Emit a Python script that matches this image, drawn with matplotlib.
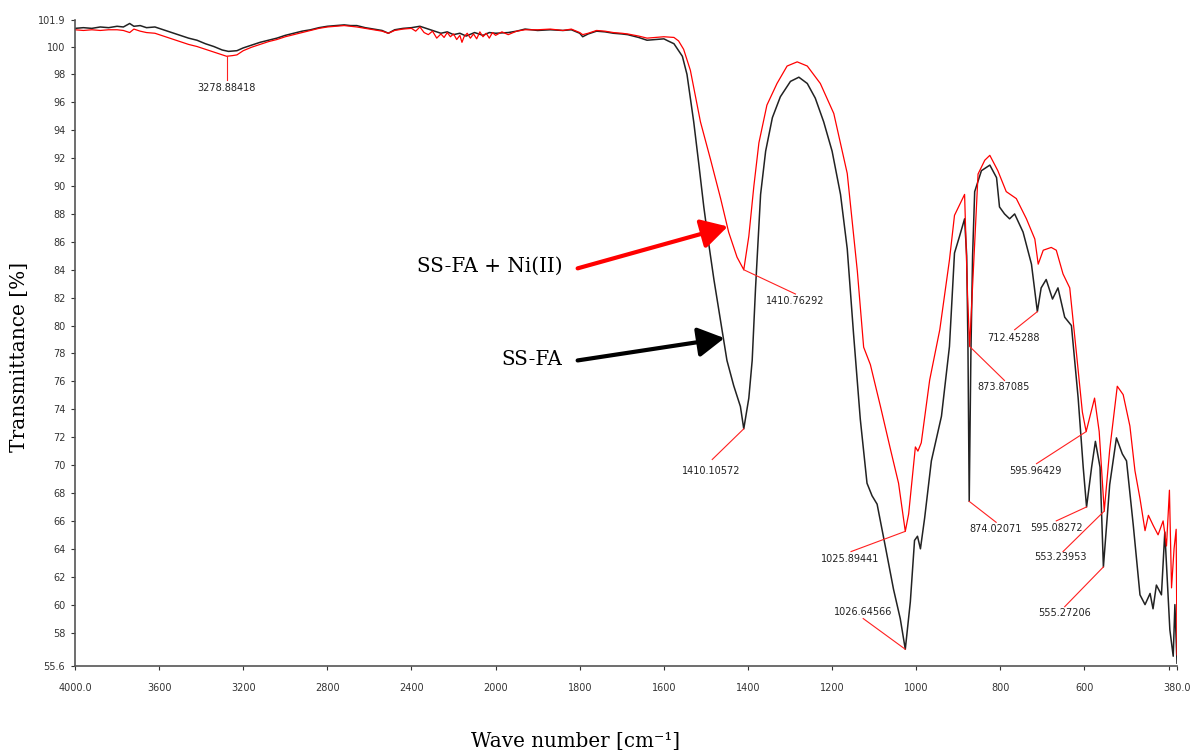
import numpy as np
import matplotlib
matplotlib.use('Agg')
import matplotlib.pyplot as plt

# SS-FA spectrum (wavenumber cm-1, transmittance %)
ssfa_wn = [4000, 3960, 3920, 3880, 3840, 3800, 3770, 3740, 3720, 3690, 3660, 3620, 3580, 3540,
           3500, 3460, 3420, 3380, 3340, 3300, 3270, 3230, 3200, 3160, 3120, 3080, 3040, 3000,
           2960, 2920, 2880, 2840, 2800, 2760, 2720, 2690, 2660, 2620, 2580, 2540, 2510, 2480,
           2440, 2400, 2360, 2330, 2300, 2260, 2230, 2200, 2170, 2140, 2100, 2060, 2030, 2000,
           1970, 1950, 1930, 1900, 1870, 1840, 1820, 1800, 1793, 1780, 1760, 1740, 1720, 1700,
           1686, 1660, 1640, 1620, 1600, 1590, 1576, 1556, 1545, 1529, 1517, 1505, 1493, 1481,
           1465, 1450, 1434, 1418, 1410, 1398, 1390, 1382, 1370, 1358, 1342, 1323, 1299, 1279,
           1259, 1240, 1220, 1200, 1180, 1164, 1149, 1133, 1117, 1105, 1093, 1073, 1054, 1038,
           1026, 1014, 1004, 997, 990, 980, 964, 940, 921, 909, 897, 885, 880, 877, 874, 870,
           866, 861, 845, 825, 809, 802, 790, 778, 766, 746, 726, 712, 703, 691, 676, 663, 647,
           631, 615, 603, 595, 583, 574, 563, 555, 540, 524, 510, 500, 484, 468, 456, 444, 437,
           429, 417, 409, 397, 389, 385, 380]
ssfa_t = [101.3, 101.35, 101.3, 101.4, 101.35, 101.45, 101.4, 101.65, 101.45, 101.5, 101.35, 101.4,
          101.2, 101.0, 100.8, 100.6, 100.45, 100.2, 100.0, 99.75, 99.65, 99.7, 99.9, 100.1, 100.3,
          100.45, 100.6, 100.8, 100.95, 101.1, 101.2, 101.35, 101.45, 101.5, 101.55, 101.5, 101.5,
          101.35, 101.25, 101.15, 100.95, 101.2, 101.3, 101.35, 101.45, 101.3, 101.15, 100.95,
          101.05, 100.85, 100.95, 100.75, 101.0, 100.8, 101.0, 100.95, 101.0, 101.1, 101.25, 101.15,
          101.2, 101.15, 101.2, 100.95, 100.7, 100.9, 101.1, 101.05, 100.95, 100.9, 100.85, 100.65,
          100.45, 100.5, 100.55, 100.4, 100.2, 99.3, 98.0, 94.6, 91.6, 88.5, 85.8, 83.3, 80.3, 77.5,
          75.7, 74.2, 72.6, 74.8, 77.5, 82.7, 89.4, 92.5, 94.9, 96.4, 97.5, 97.8, 97.35, 96.3, 94.6,
          92.5, 89.4, 85.5, 79.4, 73.3, 68.7, 67.8, 67.2, 64.1, 61.1, 59.0, 56.8, 60.2, 64.6, 64.9,
          64.0, 66.2, 70.3, 73.5, 78.5, 85.2, 86.4, 87.65, 85.0, 78.5, 67.4, 78.0, 85.0, 89.6, 91.1,
          91.5, 90.6, 88.5, 88.0, 87.65, 88.0, 86.7, 84.4, 81.0, 82.7, 83.3, 81.9, 82.7, 80.6, 80.0,
          74.8, 69.85, 67.0, 69.85, 71.7, 69.85, 62.7, 68.6, 71.95, 70.8, 70.3, 65.7, 60.7, 60.0,
          60.8, 59.7, 61.4, 60.7, 65.2, 58.2, 56.3, 60.0, 55.8]

# SS-FA + Ni(II) spectrum
ni_wn = [4000, 3960, 3920, 3880, 3840, 3800, 3770, 3740, 3720, 3690, 3660, 3620, 3580, 3540,
         3500, 3460, 3420, 3380, 3340, 3300, 3279, 3250, 3230, 3200, 3160, 3120, 3080, 3040,
         3000, 2960, 2920, 2880, 2840, 2800, 2760, 2720, 2690, 2660, 2620, 2580, 2540, 2510,
         2480, 2440, 2400, 2380, 2360, 2340, 2320, 2300, 2280, 2260, 2245, 2230, 2215, 2200,
         2185, 2170, 2160, 2150, 2135, 2120, 2105, 2090, 2075, 2060, 2045, 2030, 2015, 2000,
         1985, 1970, 1950, 1930, 1900, 1870, 1840, 1820, 1800, 1793, 1780, 1760, 1740, 1720,
         1700, 1686, 1660, 1640, 1620, 1600, 1576, 1565, 1553, 1537, 1513, 1489, 1465, 1446,
         1426, 1410, 1398, 1386, 1374, 1355, 1331, 1307, 1283, 1259, 1228, 1196, 1164, 1140,
         1125, 1109, 1085, 1061, 1042, 1026, 1018, 1008, 1002, 996, 988, 968, 944, 921, 909,
         885, 878, 873, 865, 853, 837, 825, 806, 786, 762, 738, 718, 710, 698, 679, 667, 651,
         635, 619, 605, 596, 576, 565, 553, 540, 522, 508, 492, 480, 468, 456, 448, 437, 425,
         413, 405, 398, 393, 387, 382, 380]
ni_t = [101.2, 101.15, 101.2, 101.15, 101.2, 101.2, 101.15, 101.0, 101.25, 101.1, 101.0, 100.95,
        100.75, 100.55, 100.35, 100.15, 100.0, 99.8, 99.6, 99.4, 99.3, 99.35, 99.4, 99.7, 99.95,
        100.15, 100.35, 100.5, 100.7, 100.85, 101.0, 101.15, 101.3, 101.4, 101.45, 101.5, 101.45,
        101.4, 101.3, 101.2, 101.1, 100.95, 101.15, 101.25, 101.3, 101.1, 101.4, 101.0, 100.85,
        101.1, 100.6, 100.9, 100.65, 101.0, 100.7, 100.9, 100.5, 100.8, 100.3, 100.7, 100.95,
        100.6, 100.9, 100.55, 101.05, 100.7, 100.95, 100.6, 101.0, 100.8, 101.05, 100.85, 101.1,
        101.2, 101.2, 101.25, 101.15, 101.25, 101.0, 100.85, 100.95, 101.15, 101.1, 101.0, 100.95,
        100.9, 100.75, 100.6, 100.65, 100.7, 100.65, 100.4, 99.8, 98.3, 94.6, 91.9, 89.1, 86.7,
        84.9, 84.0, 86.4, 90.0, 93.1, 95.8, 97.35, 98.6, 98.9, 98.6, 97.35, 95.2, 90.9, 83.9,
        78.45, 77.2, 74.2, 71.1, 68.7, 65.25, 66.5, 69.5, 71.3, 71.0, 71.6, 76.1, 79.7, 84.7,
        87.9, 89.4, 82.2, 78.5, 83.4, 90.86, 91.85, 92.2, 91.1, 89.6, 89.1, 87.65, 86.2, 84.4,
        85.4, 85.6, 85.4, 83.7, 82.7, 78.0, 73.8, 72.4, 74.8, 72.4, 66.7, 71.1, 75.65, 75.05,
        72.8, 69.6, 67.6, 65.3, 66.4, 65.7, 65.0, 66.0, 64.2, 68.2, 61.2, 64.0, 65.4, 56.4]

# peak labels: text, curve point, leader end, label centre
peaks = [
    ('3278.88418', (3279, 99.3), (3279, 97.6), (3279, 97.06)),
    ('1410.76292', (1410, 84.0), (1287, 82.26), (1287, 81.75)),
    ('1410.10572', (1410, 72.6), (1485, 70.4), (1488, 69.55)),
    ('1025.89441', (1026, 65.25), (1155, 63.8), (1156, 63.3)),
    ('1026.64566', (1026, 56.8), (1126, 59.0), (1127, 59.5)),
    ('873.87085', (873, 78.5), (790, 76.06), (792, 75.6)),
    ('874.02071', (874, 67.4), (810, 65.9), (812, 65.4)),
    ('712.45288', (712, 81.0), (766, 79.7), (770, 79.1)),
    ('595.96429', (596, 72.4), (714, 70.1), (717, 69.55)),
    ('595.08272', (595, 67.0), (667, 66.0), (667, 65.5)),
    ('553.23953', (553, 66.7), (651, 63.8), (657, 63.4)),
    ('555.27206', (555, 62.7), (647, 59.85), (647, 59.4)),
]

xticks = [4000, 3600, 3200, 2800, 2400, 2000, 1800, 1600, 1400, 1200, 1000, 800, 600, 400, 380]
xticklabels = ['4000.0', '3600', '3200', '2800', '2400', '2000', '1800', '1600', '1400', '1200',
               '1000', '800', '600', '', '380.0']
yticks = [55.6] + list(range(58, 101, 2)) + [101.9]
yticklabels = ['55.6'] + [str(v) for v in range(58, 101, 2)] + ['101.9']


# x axis is compressed 2x above 2000 cm-1
def fwd(w):
    w = np.asarray(w, dtype=float)
    return np.where(w >= 2000, w, 2 * w - 2000)


def inv(u):
    u = np.asarray(u, dtype=float)
    return np.where(u >= 2000, u, (u + 2000) / 2)


fig = plt.figure(figsize=(11.92, 7.53), dpi=100)
ax = fig.add_axes([75 / 1192, 1 - 666 / 753, 1102 / 1192, 646 / 753])
ax.set_xscale('function', functions=(fwd, inv))

ax.plot(ssfa_wn, ssfa_t, color='#222222', lw=1.1)
ax.plot(ni_wn, ni_t, color='#ff0000', lw=0.9)

for txt, pt, end, cen in peaks:
    ax.plot([pt[0], end[0]], [pt[1], end[1]], color='#ff2020', lw=0.8)
    ax.text(cen[0], cen[1], txt, fontsize=7, ha='center', va='center', color='#222222')

ax.set_xlim(4000, 380)
ax.set_ylim(55.6, 101.9)
ax.set_xticks(xticks)
ax.set_xticklabels(xticklabels)
ax.set_yticks(yticks)
ax.set_yticklabels(yticklabels)
ax.minorticks_off()
ax.tick_params(axis='both', labelsize=7, colors='#333333', length=3, width=0.8)
ax.tick_params(axis='x', pad=9)
ax.tick_params(axis='y', pad=4)
for s in ['top', 'right']:
    ax.spines[s].set_visible(False)
for s in ['left', 'bottom']:
    ax.spines[s].set_color('#555555')
    ax.spines[s].set_linewidth(1.2)

# arrows and sample names
arrow = dict(arrowstyle='-|>,head_length=0.8,head_width=0.45', lw=3, mutation_scale=20,
             shrinkA=0, shrinkB=0)
ax.annotate('', xy=(1448, 87.1), xytext=(1805, 84.1),
            arrowprops=dict(arrow, color='#ff0000'))
ax.annotate('', xy=(1456, 79.1), xytext=(1805, 77.5),
            arrowprops=dict(arrow, color='black'))
ax.text(1841, 84.25, 'SS-FA + Ni(II)', family='DejaVu Serif', fontsize=14.3,
        ha='right', va='center')
ax.text(1841, 77.56, 'SS-FA', family='DejaVu Serif', fontsize=14.3, ha='right', va='center')

fig.text(20 / 1192, 1 - 357 / 753, 'Transmittance [%]', family='DejaVu Serif', fontsize=14.5,
         rotation=90, ha='center', va='center')
fig.text(576 / 1192, 1 - 742 / 753, 'Wave number [cm\u207b\u00b9]', family='DejaVu Serif',
         fontsize=14.3, ha='center', va='center')

fig.savefig('out.png', dpi=100)
